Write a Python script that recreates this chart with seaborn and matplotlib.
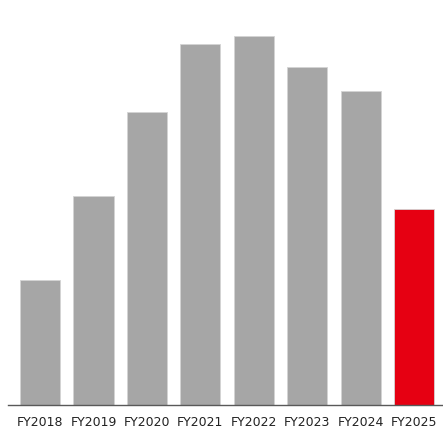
import matplotlib
matplotlib.use("Agg")
import matplotlib.pyplot as plt
import seaborn as sns
import pandas as pd

categories = ["FY2018", "FY2019", "FY2020", "FY2021", "FY2022", "FY2023", "FY2024", "FY2025"]
values = [124.6, 208.3, 292.6, 360.3, 368.8, 337.6, 313.3, 195.3]
bar_colors = ["#a6a6a6"] * 7 + ["#e60012"]

df = pd.DataFrame({"year": categories, "value": values})

sns.set_theme(style="white")
plt.rcParams["font.family"] = ["DejaVu Sans"]

W, H = 443, 432
fig = plt.figure(figsize=(W / 100, H / 100), dpi=100)
ax = fig.add_axes([8 / W, (H - 404.5) / H, (W - 8) / W, 404.5 / H])

sns.barplot(data=df, x="year", y="value", hue="year", palette=bar_colors,
            legend=False, width=0.75, ax=ax, saturation=1,
            edgecolor="#d4d4d4", linewidth=0.6)

ax.set_ylim(0, 404.5)
ax.set_xlim(-0.598, 7.537)
ax.set_xlabel("")
ax.set_ylabel("")
ax.set_yticks([])
for s in ["top", "right", "left"]:
    ax.spines[s].set_visible(False)
ax.spines["bottom"].set_color("#595959")
ax.spines["bottom"].set_linewidth(1.0)
ax.tick_params(axis="x", length=0, pad=8, labelsize=9, labelcolor="#222222")

fig.savefig("out.png", dpi=100)
